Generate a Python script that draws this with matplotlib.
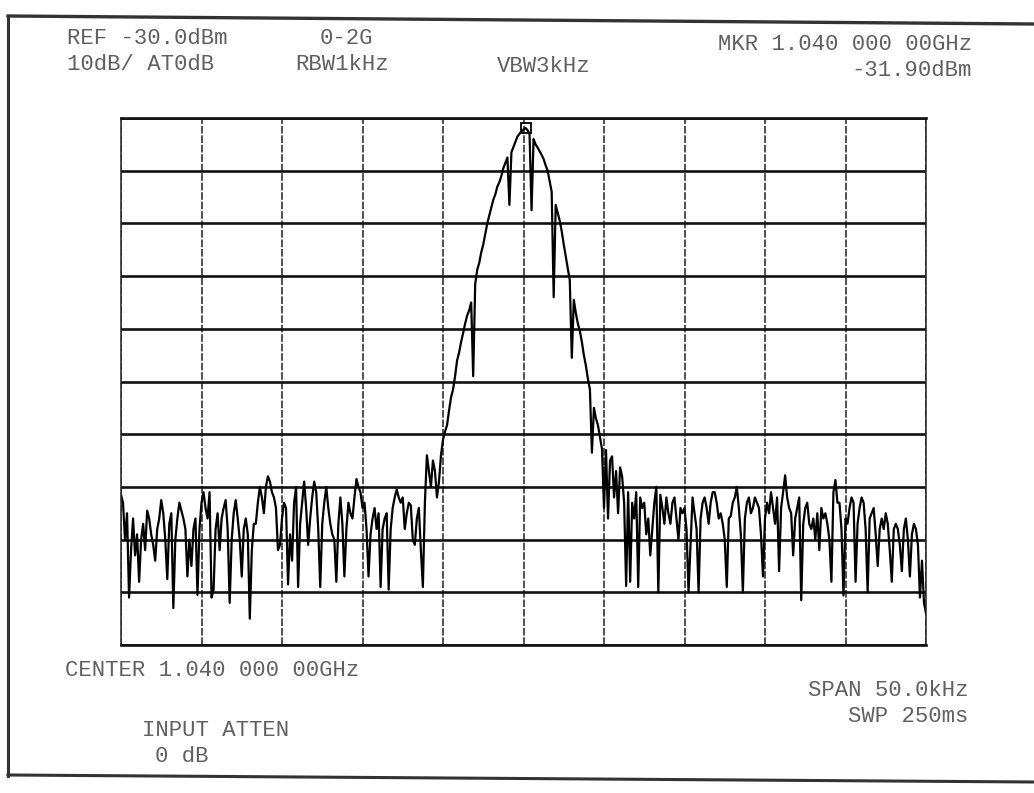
import numpy as np
import matplotlib
matplotlib.use("Agg")
import matplotlib.pyplot as plt
from matplotlib.lines import Line2D

# ---------------- data (dBm, 401 sweep points) ----------------
left_noise = [
    -101.5, -103, -110, -105, -121, -112, -106, -113, -109, -118, -110, -107, -112, -104.5, -106, -109, -111, -114, -108, -106,
    -102.5, -105, -110, -117.5, -107, -105, -123, -110, -106, -103, -104.5, -106, -108, -117, -110, -115, -108, -106, -120.5, -108,
    -103, -101, -104, -106, -101, -121, -119.5, -108, -105, -112, -106, -104, -102.5, -108, -122, -110, -105, -102.5, -106, -110,
    -117, -108, -106, -109, -125, -112, -107, -107, -103, -100, -102, -105, -100, -98, -99, -101, -102, -104, -112, -111,
    -106, -103, -104, -118.5, -109, -114, -103, -100, -119, -107, -103, -99, -104, -111, -106, -102, -99, -101, -108, -119,
    -107, -103, -100, -104, -107, -109, -110, -118, -107, -102, -107, -117, -108, -103, -105, -106, -102, -98.5, -100, -101,
    -104, -103, -108, -117, -109, -106, -104, -108, -105, -119, -108, -106, -105, -119.5, -108, -104, -102, -100.5, -102, -103,
    -102, -108, -105, -103, -103.5, -110, -111, -106, -104, -112, -119, -103, -94, -97, -100, -95, -97, -102, -99, -94,
]
left_flank = [
    -91, -89.5, -88.3, -85.5, -83, -81.5, -79, -76, -74.5, -72.5,
    -70.8, -69, -67.5, -66.5, -65, -79, -61.5, -58.8, -57.5, -55.5,
    -54, -52, -50, -48.5, -47, -45.5, -44.5, -43, -42.2, -41,
    -39.5, -38.5, -37.5, -46.5, -36.5, -35.5, -34.5, -33.5, -33, -32.5, -32.2, -31.9,
]
right_flank = [
    -32.3, -33, -47.5, -34, -35, -35.6, -36.3, -37, -37.8, -39,
    -40, -42, -44, -64, -46.5, -48, -49.5, -51.5, -54, -56.3,
    -58.5, -60.8, -75.5, -64.5, -67, -69, -70.4, -72.5, -75, -77,
    -79.5, -81.5, -93.5, -85, -87, -88.3, -90.5, -92.8,
]
right_noise = [
    -104, -93, -106, -95, -94.2, -102, -97, -105, -96.3, -98, -103, -118.8, -101, -118, -103, -106, -101, -119, -102, -104,
    -103, -109, -106, -113, -108, -103, -100, -120, -101.5, -104, -107, -102, -105, -107, -103, -102, -106, -110, -104, -105,
    -104, -108, -120, -111, -102, -105, -108, -120, -106, -103, -102, -104, -107, -103, -101, -101, -103, -106, -105, -107,
    -110, -119, -106, -105.5, -103, -102, -100, -104, -109, -120, -106, -103, -102, -105, -104, -102, -103, -104, -109, -117,
    -106, -103, -105, -101, -104, -107, -102, -116, -104, -101, -97.8, -102, -104, -105, -113, -106, -104, -102, -121.5, -107,
    -104, -103, -107, -108, -106, -110, -105, -112, -104, -106, -105, -107, -110, -118, -101, -98.7, -103, -103, -108, -120.6,
    -106, -107, -104, -102, -103, -118, -107, -104, -102, -103, -108, -120, -106, -105, -104, -109, -115, -108, -106, -108,
    -105, -107, -112, -118, -108, -107, -108, -111, -116, -108, -106, -110, -117, -109, -107, -108, -111, -121, -114, -122,
    -124,
]

ref_level = -30.0      # dBm, top of screen
db_per_div = 10.0
span_khz = 50.0

header_left = ["REF -30.0dBm", "10dB/ AT0dB"]
header_mid = ["0-2G", "RBW1kHz", "VBW3kHz"]
header_right = ["MKR 1.040 000 00GHz", "-31.90dBm"]
footer_left = ["CENTER 1.040 000 00GHz", "INPUT ATTEN", "0 dB"]
footer_right = ["SPAN 50.0kHz", "SWP 250ms"]

# ---------------- figure ----------------
trace = np.array(left_noise + left_flank + right_flank + right_noise)
freq = np.linspace(-span_khz / 2, span_khz / 2, len(trace))

W, H = 1034, 793
fig = plt.figure(figsize=(W / 100, H / 100), dpi=100)
fig.patch.set_facecolor("white")

def fx(x):
    return x / W

def fy(y):
    return 1 - y / H

ax = fig.add_axes([fx(121), fy(645), fx(926) - fx(121), fy(118) - fy(645)])
ax.set_xlim(-span_khz / 2, span_khz / 2)
ax.set_ylim(ref_level - 10 * db_per_div, ref_level)
ax.set_xticks(np.linspace(-span_khz / 2, span_khz / 2, 11))
ax.set_yticks(np.arange(ref_level - 10 * db_per_div, ref_level + 1, db_per_div))
ax.tick_params(length=0, labelbottom=False, labelleft=False)
ax.yaxis.grid(True, color="#111111", lw=1.9)
ax.xaxis.grid(True, color="#222222", lw=1.1, ls=(0, (5, 1.2)))
ax.set_axisbelow(True)
for s in ("top", "bottom"):
    ax.spines[s].set_linewidth(1.9)
    ax.spines[s].set_color("#111111")
for s in ("left", "right"):
    ax.spines[s].set_linewidth(1.1)
    ax.spines[s].set_color("#222222")

ax.plot(freq, trace, color="black", lw=1.6)
imax = int(np.argmax(trace))
ax.plot(freq[imax], trace[imax], marker="s", ms=7, mfc="none", mec="black", mew=1.3)

# ---------------- text ----------------
tk = dict(family="Liberation Mono", fontsize=16, color="#606060", va="center")
fig.text(fx(67), fy(39), header_left[0], ha="left", **tk)
fig.text(fx(67), fy(65), header_left[1], ha="left", **tk)
fig.text(fx(320), fy(39), header_mid[0], ha="left", **tk)
fig.text(fx(295), fy(65), header_mid[1], ha="left", **tk)
fig.text(fx(497), fy(66), header_mid[2], ha="left", **tk)
fig.text(fx(972), fy(44), header_right[0], ha="right", **tk)
fig.text(fx(972), fy(70), header_right[1], ha="right", **tk)

fig.text(fx(65), fy(670), footer_left[0], ha="left", **tk)
fig.text(fx(142), fy(731), footer_left[1], ha="left", **tk)
fig.text(fx(155), fy(757), footer_left[2], ha="left", **tk)
fig.text(fx(968), fy(690), footer_right[0], ha="right", **tk)
fig.text(fx(968), fy(716), footer_right[1], ha="right", **tk)

# ---------------- outer frame ----------------
fc = "#333333"
fig.add_artist(Line2D([fx(8), fx(8)], [fy(16), fy(776)], transform=fig.transFigure, color=fc, lw=2.2))
fig.add_artist(Line2D([fx(8), fx(1034)], [fy(16), fy(24)], transform=fig.transFigure, color=fc, lw=2.4))
fig.add_artist(Line2D([fx(8), fx(1034)], [fy(775), fy(782)], transform=fig.transFigure, color=fc, lw=2.2))

fig.savefig("out.png", dpi=100, facecolor="white")
